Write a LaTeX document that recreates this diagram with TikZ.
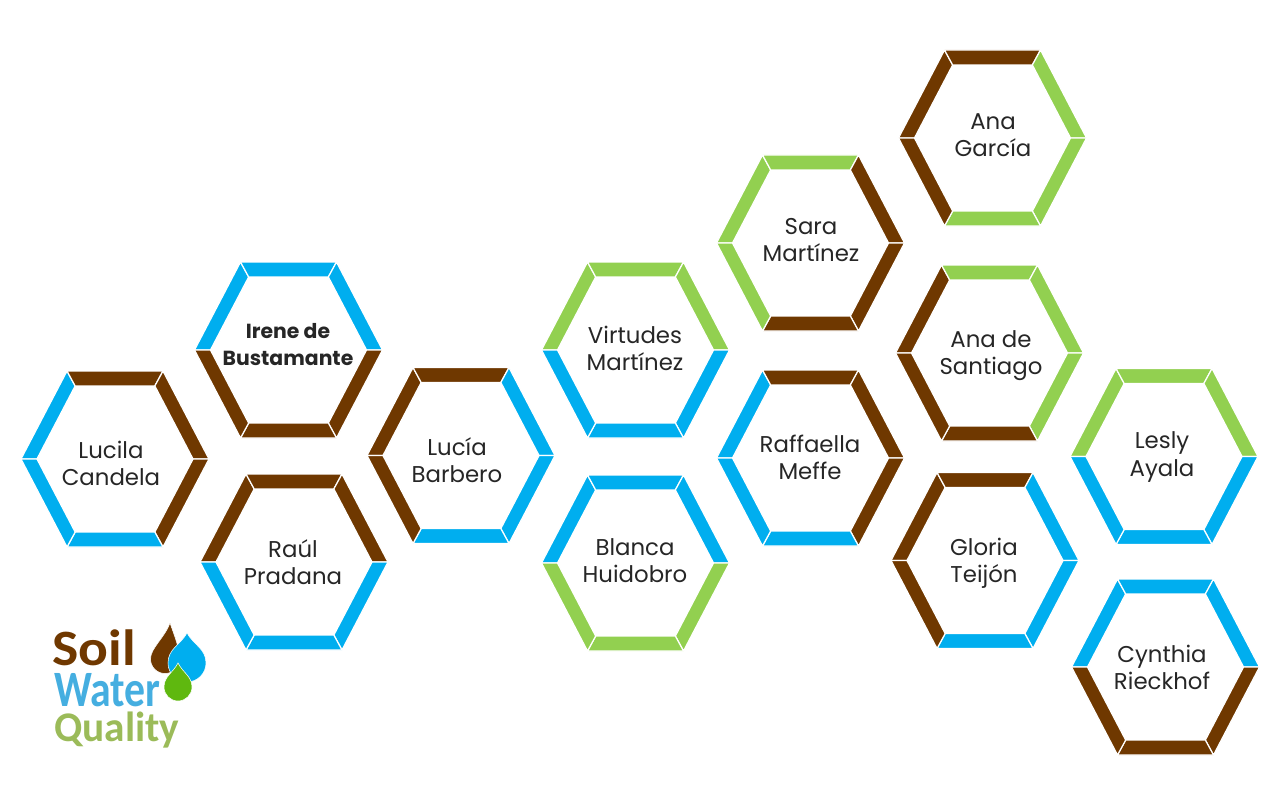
\documentclass[tikz,border=0pt]{standalone}
\usepackage{fontspec}
\setmainfont{Poppins}
\newfontfamily\logofont{Carlito}
\definecolor{soilbrown}{HTML}{6F3800}
\definecolor{waterblue}{HTML}{00AEEF}
\definecolor{leafgreen}{HTML}{92D050}
\definecolor{logoblue}{HTML}{45AEE0}
\definecolor{logogreen}{HTML}{9BBB59}
\definecolor{dropgreen}{HTML}{5FB80F}
\tikzset{
	every name/.style={font=\fontsize{13}{15.4}\selectfont,align=center,text=black!85,inner sep=0pt},
	cell side/.style={draw=white,line width=.7pt,line join=miter},
	logo text/.style={inner sep=0pt,anchor=base west}
}
% centre, then colours of the sides: upper left, top, upper right, lower right, bottom, lower left
\newcommand{\hexcell}[7]{
	\begin{scope}[shift={#1}]
		\foreach \ax/\ay/\bx/\by/\sidecolor in {-94/0/-48/-88/#2,-48/-88/48/-88/#3,48/-88/94/0/#4,94/0/48/88/#5,48/88/-48/88/#6,-48/88/-94/0/#7}
			\filldraw[cell side,fill=\sidecolor] (\ax,\ay) -- (\bx,\by) -- ({.83*\bx},{.83*\by}) -- ({.83*\ax},{.83*\ay}) -- cycle;
	\end{scope}
}
% apex x, apex y, body centre x, body centre y, radius, colour
\newcommand{\logodrop}[6]{
	\filldraw[#6,draw=white,line width=.3pt] (#1,#2)
		.. controls ({#1+.35*#5},{#2+.4*(#4-#2)}) and ({#3+#5},{#4-.75*#5}) .. ({#3+#5},#4)
		.. controls ({#3+#5},{#4+.55*#5}) and ({#3+.55*#5},{#4+#5}) .. (#3,{#4+#5})
		.. controls ({#3-.55*#5},{#4+#5}) and ({#3-#5},{#4+.55*#5}) .. ({#3-#5},#4)
		.. controls ({#3-#5},{#4-.75*#5}) and ({#1-.35*#5},{#2+.4*(#4-#2)}) .. (#1,#2) -- cycle;
}
\begin{document}
\begin{tikzpicture}[x=.02cm,y=-.02cm]
	\useasboundingbox (0,0) rectangle (1280,804);
	\hexcell{(992.5,138)}{soilbrown}{soilbrown}{leafgreen}{leafgreen}{leafgreen}{soilbrown}
	\hexcell{(810.5,243)}{leafgreen}{leafgreen}{soilbrown}{soilbrown}{soilbrown}{leafgreen}
	\hexcell{(288.5,350)}{waterblue}{waterblue}{waterblue}{soilbrown}{soilbrown}{soilbrown}
	\hexcell{(115,459)}{waterblue}{soilbrown}{soilbrown}{soilbrown}{waterblue}{waterblue}
	\hexcell{(294,562)}{soilbrown}{soilbrown}{soilbrown}{waterblue}{waterblue}{waterblue}
	\hexcell{(461,455.5)}{soilbrown}{soilbrown}{waterblue}{waterblue}{waterblue}{soilbrown}
	\hexcell{(635.5,350)}{leafgreen}{leafgreen}{leafgreen}{waterblue}{waterblue}{waterblue}
	\hexcell{(635.5,563)}{waterblue}{waterblue}{waterblue}{leafgreen}{leafgreen}{leafgreen}
	\hexcell{(810.5,458)}{waterblue}{soilbrown}{soilbrown}{soilbrown}{waterblue}{waterblue}
	\hexcell{(989.5,353)}{soilbrown}{leafgreen}{leafgreen}{leafgreen}{soilbrown}{soilbrown}
	\hexcell{(985,560.5)}{soilbrown}{soilbrown}{waterblue}{waterblue}{waterblue}{soilbrown}
	\hexcell{(1164,456.5)}{leafgreen}{leafgreen}{leafgreen}{waterblue}{waterblue}{waterblue}
	\hexcell{(1165.5,667)}{waterblue}{waterblue}{waterblue}{soilbrown}{soilbrown}{soilbrown}
	% names
	\node[every name] (anagarcia) at (993,135) {Ana\\García};
	\node[every name] (sara) at (811,240) {Sara\\Martínez};
	\node[every name,font=\fontsize{11.6}{15.4}\selectfont\bfseries] (irene) at (288,345) {Irene de\\Bustamante};
	\node[every name] (lucila) at (111,463) {Lucila\\Candela};
	\node[every name] (raul) at (293,562) {Raúl\\Pradana};
	\node[every name] (lucia) at (457,460) {Lucía\\Barbero};
	\node[every name] (virtudes) at (635,348) {Virtudes\\Martínez};
	\node[every name] (blanca) at (635,561) {Blanca\\Huidobro};
	\node[every name] (raffaella) at (810,457) {Raffaella\\Meffe};
	\node[every name] (anasantiago) at (991,356) {Ana de\\Santiago};
	\node[every name] (gloria) at (984,563) {Gloria\\Teijón};
	\node[every name] (lesly) at (1162,457) {Lesly\\Ayala};
	\node[every name] (cynthia) at (1162,667) {Cynthia\\Rieckhof};
	% logo
	\logodrop{170}{623}{165}{659}{14.5}{soilbrown}
	\logodrop{187}{633}{187}{663}{19}{waterblue}
	\logodrop{178}{663}{178}{687}{14}{dropgreen}
	\node[logo text,text=soilbrown,font=\logofont\bfseries\fontsize{29}{29}\selectfont,xscale=1.09] (soil) at (52,665) {Soil};
	\node[logo text,text=logoblue,font=\logofont\bfseries\fontsize{29}{29}\selectfont,xscale=.82] (water) at (54,706) {Water};
	\node[logo text,text=logogreen,font=\logofont\bfseries\fontsize{24}{24}\selectfont,xscale=.98] (quality) at (54,741) {Quality};
\end{tikzpicture}
\end{document}
